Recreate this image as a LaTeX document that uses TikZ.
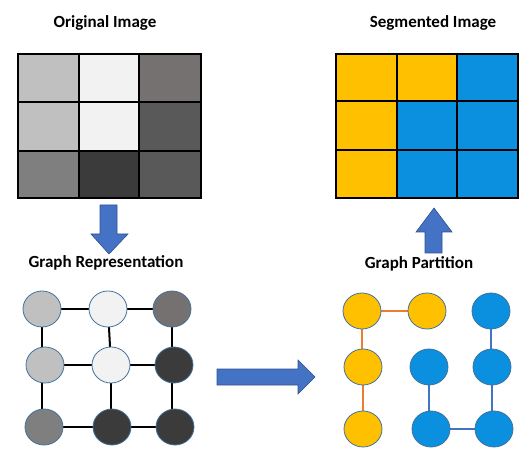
\documentclass[tikz,border=0pt]{standalone}
\usepackage{fontspec}
\setmainfont{Carlito}
\usetikzlibrary{shapes.geometric,backgrounds}
\definecolor{gA}{HTML}{C0C0C0}
\definecolor{gB}{HTML}{F2F2F2}
\definecolor{gC}{HTML}{767171}
\definecolor{gD}{HTML}{595959}
\definecolor{gE}{HTML}{7F7F7F}
\definecolor{gF}{HTML}{3B3B3B}
\definecolor{yel}{HTML}{FFC000}
\definecolor{blu}{HTML}{0B90E0}
\definecolor{arrfill}{HTML}{4472C4}
\definecolor{arrdraw}{HTML}{2F528F}
\definecolor{circdraw}{HTML}{41719C}
\definecolor{orng}{HTML}{ED7D31}
\definecolor{bedge}{HTML}{4472C4}
\tikzset{
  title/.style={font=\bfseries\fontsize{17}{20}\selectfont, inner sep=0pt},
  cell/.style={draw=black, line width=1.2pt},
  vert/.style={ellipse, draw=circdraw, line width=0.8pt, minimum width=38pt, minimum height=36pt, inner sep=0pt},
  gedge/.style={draw=black, line width=2pt},
  oedge/.style={draw=orng, line width=1.5pt},
  bluedge/.style={draw=bedge, line width=1.5pt},
  bigarrow/.style={fill=arrfill, draw=arrdraw, line width=0.6pt}
}
\begin{document}
\begin{tikzpicture}[x=1pt,y=-1pt]
\useasboundingbox (0,0) rectangle (531,476);
% titles
\node[title] (t1) at (105,23) {Original Image};
\node[title] (t2) at (433,23) {Segmented Image};
\node[title] (t3) at (106,263) {Graph Representation};
\node[title] (t4) at (419,264) {Graph Partition};
% original grid
\path[cell,fill=gA] (18,54) rectangle (79,102);
\path[cell,fill=gB] (79,54) rectangle (139,102);
\path[cell,fill=gC] (139,54) rectangle (201,102);
\path[cell,fill=gA] (18,102) rectangle (79,151);
\path[cell,fill=gB] (79,102) rectangle (139,151);
\path[cell,fill=gD] (139,102) rectangle (201,151);
\path[cell,fill=gE] (18,151) rectangle (79,198);
\path[cell,fill=gF] (79,151) rectangle (139,198);
\path[cell,fill=gD] (139,151) rectangle (201,198);
% segmented grid
\path[cell,fill=yel] (336,54) rectangle (397,101);
\path[cell,fill=yel] (397,54) rectangle (457,101);
\path[cell,fill=blu] (457,54) rectangle (518,101);
\path[cell,fill=yel] (336,101) rectangle (397,150);
\path[cell,fill=blu] (397,101) rectangle (457,150);
\path[cell,fill=blu] (457,101) rectangle (518,150);
\path[cell,fill=yel] (336,150) rectangle (397,198);
\path[cell,fill=blu] (397,150) rectangle (457,198);
\path[cell,fill=blu] (457,150) rectangle (518,198);
% arrows
\path[bigarrow] (100,205) -- (117,205) -- (117,234) -- (128,234) -- (109,254) -- (91,234) -- (100,234) -- cycle;
\path[bigarrow] (425,253) -- (442,253) -- (442,232) -- (452,232) -- (434,208) -- (416,232) -- (425,232) -- cycle;
\path[bigarrow] (217,369) -- (298,369) -- (298,360) -- (315,377) -- (298,394) -- (298,385) -- (217,385) -- cycle;
% left graph
\node[vert,fill=gA] (a11) at (42,309) {};
\node[vert,fill=gB] (a12) at (108,309) {};
\node[vert,fill=gC] (a13) at (172,309) {};
\node[vert,fill=gA] (a21) at (45,365) {};
\node[vert,fill=gB] (a22) at (111,365) {};
\node[vert,fill=gF] (a23) at (174,365) {};
\node[vert,fill=gE] (a31) at (44,427) {};
\node[vert,fill=gF] (a32) at (112,427) {};
\node[vert,fill=gF] (a33) at (175,427) {};
% right graph
\node[vert,fill=yel] (b11) at (362,311) {};
\node[vert,fill=yel] (b12) at (427,311) {};
\node[vert,fill=blu] (b13) at (491,311) {};
\node[vert,fill=yel] (b21) at (363,367) {};
\node[vert,fill=blu] (b22) at (429,367) {};
\node[vert,fill=blu] (b23) at (492,367) {};
\node[vert,fill=yel] (b31) at (363,429) {};
\node[vert,fill=blu] (b32) at (431,429) {};
\node[vert,fill=blu] (b33) at (494,429) {};
\begin{scope}[on background layer]
\draw[gedge] (a11) -- (a12);
\draw[gedge] (a12) -- (a13);
\draw[gedge] (a21) -- (a22);
\draw[gedge] (a22) -- (a23);
\draw[gedge] (a31) -- (a32);
\draw[gedge] (a32) -- (a33);
\draw[gedge] (a11.center) -- (a11.center |- a21.center);
\draw[gedge] (a11.center |- a21.center) -- (a11.center |- a31.center);
\draw[gedge] (a12.center) -- (a22.center);
\draw[gedge] (a22.center) -- (a22.center |- a32.center);
\draw[gedge] (a13.center) -- (a13.center |- a23.center);
\draw[gedge] (a13.center |- a23.center) -- (a13.center |- a33.center);
\draw[oedge] (b11) -- (b12);
\draw[oedge] (b11.center) -- (b11.center |- b21.center);
\draw[oedge] (b21.center) -- (b21.center |- b31.center);
\draw[bluedge] (b13.center) -- (b13.center |- b23.center);
\draw[bluedge] (b23.center) -- (b23.center |- b33.center);
\draw[bluedge] (b22.center) -- (b22.center |- b32.center);
\draw[bluedge] (b32) -- (b33);
\end{scope}
\end{tikzpicture}
\end{document}
